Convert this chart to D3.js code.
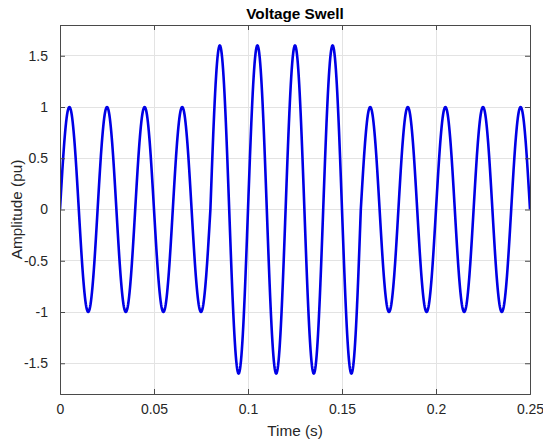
<!DOCTYPE html>
<html>
<head>
<meta charset="utf-8">
<script src="https://cdn.jsdelivr.net/npm/d3@7"></script>
<style>
  html, body { margin: 0; padding: 0; background: #fff; }
  svg { display: block; font-family: "Liberation Sans", Arial, Helvetica, sans-serif; }
</style>
</head>
<body>
<svg id="chart" width="543" height="445"></svg>
<script>
// ---- data ----
const title = "Voltage Swell";
const xLabel = "Time (s)";
const yLabel = "Amplitude (pu)";
const frequencyHz = 50;              // supply frequency read from the peak spacing (0.02 s)
const halfCycleStart = [0, 0.01, 0.02, 0.03, 0.04, 0.05, 0.06, 0.07, 0.08, 0.09, 0.10, 0.11, 0.12,
                        0.13, 0.14, 0.15, 0.16, 0.17, 0.18, 0.19, 0.20, 0.21, 0.22, 0.23, 0.24];
const halfCyclePeak = [1, -1, 1, -1, 1, -1, 1, -1, 1.6, -1.6, 1.6, -1.6, 1.6,
                       -1.6, 1.6, -1.6, 1, -1, 1, -1, 1, -1, 1, -1, 1];
const xTicks = [0, 0.05, 0.1, 0.15, 0.2, 0.25];
const xTickLabels = ["0", "0.05", "0.1", "0.15", "0.2", "0.25"];
const yTicks = [-1.5, -1, -0.5, 0, 0.5, 1, 1.5];
const yTickLabels = ["-1.5", "-1", "-0.5", "0", "0.5", "1", "1.5"];
const xDomain = [0, 0.25];
const yDomain = [-1.8, 1.8];

// ---- layout ----
const svg = d3.select("#chart");
const mLeft = 60, mRight = 530, mTop = 25, mBottom = 394;
const x = d3.scaleLinear().domain(xDomain).range([mLeft, mRight]);
const y = d3.scaleLinear().domain(yDomain).range([mBottom, mTop]);
const axisColor = "#4a4a4a", textColor = "#262626", gridColor = "#e3e3e3";

// grid
svg.append("g").selectAll("line").data(xTicks.slice(1, -1)).join("line")
  .attr("x1", d => x(d)).attr("x2", d => x(d)).attr("y1", mTop).attr("y2", mBottom)
  .attr("stroke", gridColor).attr("stroke-width", 1).attr("shape-rendering", "crispEdges");
svg.append("g").selectAll("line").data(yTicks).join("line")
  .attr("y1", d => y(d)).attr("y2", d => y(d)).attr("x1", mLeft).attr("x2", mRight)
  .attr("stroke", gridColor).attr("stroke-width", 1).attr("shape-rendering", "crispEdges");

// signal: each half-cycle is a sine lobe with the read peak value
const halfPeriod = 1 / (2 * frequencyHz);
const pts = [];
halfCycleStart.forEach((t0, i) => {
  const n = 40;
  for (let j = (i === 0 ? 0 : 1); j <= n; j++) {
    const t = t0 + halfPeriod * j / n;
    pts.push([t, halfCyclePeak[i] * Math.sin(Math.PI * j / n)]);
  }
});
svg.append("defs").append("clipPath").attr("id", "clip")
  .append("rect").attr("x", mLeft).attr("y", mTop - 3).attr("width", mRight - mLeft).attr("height", mBottom - mTop + 6);
svg.append("path").datum(pts)
  .attr("clip-path", "url(#clip)")
  .attr("d", d3.line().x(d => x(d[0])).y(d => y(d[1])))
  .attr("fill", "none").attr("stroke", "#0000e6").attr("stroke-width", 2.6)
  .attr("stroke-linejoin", "round");

// axes (box with inward ticks on all sides)
const tickLen = 5;
const xAxisB = d3.axisBottom(x).tickValues(xTicks).tickSize(-tickLen).tickPadding(10)
  .tickFormat((d, i) => xTickLabels[i]);
const xAxisT = d3.axisTop(x).tickValues(xTicks).tickSize(-tickLen).tickFormat("");
const yAxisL = d3.axisLeft(y).tickValues(yTicks).tickSize(-tickLen).tickPadding(12)
  .tickFormat((d, i) => yTickLabels[i]);
const yAxisR = d3.axisRight(y).tickValues(yTicks).tickSize(-tickLen).tickFormat("");

function style(g) {
  g.select(".domain").attr("stroke", axisColor).attr("stroke-width", 1);
  g.selectAll(".tick line").attr("stroke", axisColor);
  g.selectAll("text").attr("fill", textColor).attr("font-size", 14)
    .attr("font-family", "'Liberation Sans', Arial, sans-serif");
}
svg.append("g").attr("transform", `translate(0,${mBottom})`).call(xAxisB).call(style);
svg.append("g").attr("transform", `translate(0,${mTop})`).call(xAxisT).call(style);
svg.append("g").attr("transform", `translate(${mLeft},0)`).call(yAxisL).call(style);
svg.append("g").attr("transform", `translate(${mRight},0)`).call(yAxisR).call(style);

// labels
svg.append("text").attr("x", (mLeft + mRight) / 2).attr("y", 19).attr("text-anchor", "middle")
  .attr("font-size", 15.3).attr("font-weight", "bold").attr("fill", "#000").text(title);
svg.append("text").attr("x", (mLeft + mRight) / 2).attr("y", 436).attr("text-anchor", "middle")
  .attr("font-size", 15.3).attr("fill", textColor).text(xLabel);
svg.append("text").attr("transform", `translate(22,${(mTop + mBottom) / 2}) rotate(-90)`)
  .attr("text-anchor", "middle").attr("font-size", 15.3).attr("fill", textColor).text(yLabel);
</script>
</body>
</html>
